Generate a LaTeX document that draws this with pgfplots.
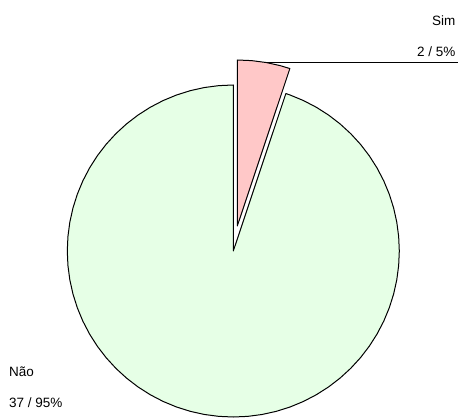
\documentclass[border=0pt]{standalone}
\usepackage{pgfplots}
\pgfplotsset{compat=1.18}
\usepackage{fontspec}
\setmainfont{Liberation Sans}
\definecolor{simpink}{RGB}{255,200,200}
\definecolor{naogreen}{RGB}{230,255,230}
\tikzset{lbl/.style={font=\fontsize{13.5}{16}\selectfont, inner sep=0pt}}
\begin{document}
\begin{tikzpicture}
\begin{axis}[
  scale only axis,
  width=460pt, height=412pt,
  xmin=-233.3, xmax=226.7,
  ymin=-161, ymax=251,
  axis line style={draw=none},
  ticks=none,
  clip=false,
]
% Não: 37 of 39 (94.87%), from 71.54 deg counter-clockwise to 90 deg
\addplot[draw=black, line width=1pt, fill=naogreen, data cs=polar, line join=round]
  coordinates {
  (0,0) (90,166) (95,166) (100,166) (105,166) (110,166) (115,166) (120,166)
  (125,166) (130,166) (135,166) (140,166) (145,166) (150,166) (155,166)
  (160,166) (165,166) (170,166) (175,166) (180,166) (185,166) (190,166)
  (195,166) (200,166) (205,166) (210,166) (215,166) (220,166) (225,166)
  (230,166) (235,166) (240,166) (245,166) (250,166) (255,166) (260,166)
  (265,166) (270,166) (275,166) (280,166) (285,166) (290,166) (295,166)
  (300,166) (305,166) (310,166) (315,166) (320,166) (325,166) (330,166)
  (335,166) (340,166) (345,166) (350,166) (355,166) (360,166) (365,166)
  (370,166) (375,166) (380,166) (385,166) (390,166) (395,166) (400,166)
  (405,166) (410,166) (415,166) (420,166) (425,166) (430,166) (431.54,166)
  (0,0)
  } -- cycle;
% Sim: 2 of 39 (5.13%), exploded
\addplot[draw=black, line width=1pt, fill=simpink, data cs=polar, line join=round,
  xshift=4pt, yshift=25pt]
  coordinates {
  (0,0) (71.54,166) (75,166) (80,166) (85,166) (90,166) (0,0)
  } -- cycle;
% leader line
\addplot[black, line width=0.8pt] coordinates {(30.6,188.4) (224.7,188.4)};
\node[lbl, anchor=base east] at (axis cs:222.2,225) {Sim};
\node[lbl, anchor=base east] at (axis cs:222.2,194) {2 / 5\%};
\node[lbl, anchor=base west] at (axis cs:-224.3,-125) {Não};
\node[lbl, anchor=base west] at (axis cs:-224.3,-156) {37 / 95\%};
\end{axis}
\end{tikzpicture}
\end{document}
